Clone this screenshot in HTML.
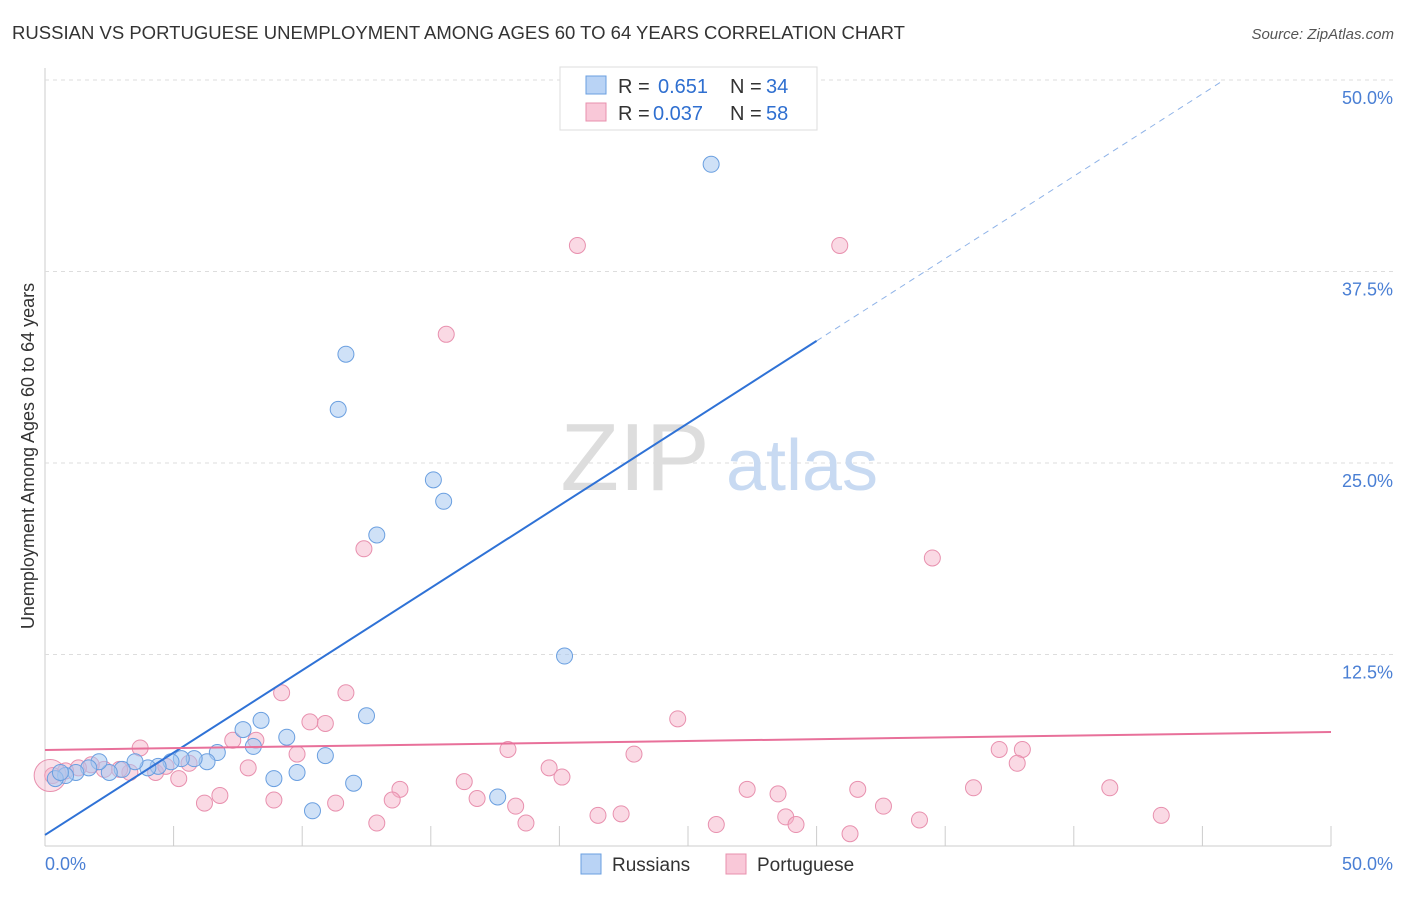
<!DOCTYPE html>
<html><head><meta charset="utf-8"><style>
body{margin:0;background:#fff;font-family:"Liberation Sans",sans-serif}
svg text{font-family:"Liberation Sans",sans-serif}
</style></head><body>
<svg width="1406" height="892" viewBox="0 0 1406 892" xmlns="http://www.w3.org/2000/svg">
<text x="12" y="39" font-size="18" fill="#333" textLength="893" lengthAdjust="spacingAndGlyphs">RUSSIAN VS PORTUGUESE UNEMPLOYMENT AMONG AGES 60 TO 64 YEARS CORRELATION CHART</text>
<text x="1394" y="39" font-size="15" fill="#555" text-anchor="end" font-style="italic">Source: ZipAtlas.com</text>
<g id="grid"></g>
<g>
<text x="635" y="490" font-size="96" fill="#ddd" text-anchor="middle" font-family="Liberation Serif">ZIP</text>
<text x="802" y="490" font-size="72" fill="#c8daf2" text-anchor="middle">atlas</text></g>
<text transform="translate(34,456) rotate(-90)" font-size="18" fill="#333" text-anchor="middle">Unemployment Among Ages 60 to 64 years</text>
<g id="pts"></g>
<g id="lines"></g>
<g>
<rect x="560" y="67" width="257" height="63" fill="#fff" stroke="#ddd"/>
<rect x="586" y="76" width="20" height="18" fill="#b9d3f5" stroke="#6a9fe0"/>
<rect x="586" y="103" width="20" height="18" fill="#f9c8d8" stroke="#e890ae"/>
<text x="618" y="93" font-size="20" fill="#333">R =</text>
<text x="658" y="93" font-size="20" fill="#2f6fd0">0.651</text>
<text x="730" y="93" font-size="20" fill="#333">N =</text>
<text x="766" y="93" font-size="20" fill="#2f6fd0">34</text>
<text x="618" y="120" font-size="20" fill="#333">R =</text>
<text x="653" y="120" font-size="20" fill="#2f6fd0">0.037</text>
<text x="730" y="120" font-size="20" fill="#333">N =</text>
<text x="766" y="120" font-size="20" fill="#2f6fd0">58</text>
</g>
<g>
<rect x="581" y="854" width="20" height="20" fill="#b9d3f5" stroke="#6a9fe0"/>
<text x="612" y="871" font-size="19" fill="#333">Russians</text>
<rect x="726" y="854" width="20" height="20" fill="#f9c8d8" stroke="#e890ae"/>
<text x="757" y="871" font-size="19" fill="#333">Portuguese</text>
</g>
<text x="45" y="870" font-size="18" fill="#4a7fd4">0.0%</text>
<text x="1393" y="870" font-size="18" fill="#4a7fd4" text-anchor="end">50.0%</text>
</svg>
<script>
const yTicks=[12.5,25,37.5,50];
const yTickLabels=["12.5%","25.0%","37.5%","50.0%"];
const xTicks=[0,5,10,15,20,25,30,35,40,45,50];
const rusX=[25.9,11.7,11.4,15.1,15.5,12.9,20.2,12.5,8.4,7.7,9.4,8.1,6.7,6.3,5.8,5.3,4.9,4.4,4.0,3.5,3.0,2.5,2.1,1.7,1.2,0.8,0.4,10.9,9.8,8.9,12.0,17.6,10.4,0.6];
const rusY=[44.5,32.1,28.5,23.9,22.5,20.3,12.4,8.5,8.2,7.6,7.1,6.5,6.1,5.5,5.7,5.7,5.5,5.2,5.1,5.5,5.0,4.8,5.5,5.1,4.8,4.6,4.4,5.9,4.8,4.4,4.1,3.2,2.3,4.8];
const porX=[20.7,30.9,15.6,12.4,34.5,9.2,11.7,24.6,10.3,10.9,8.2,7.3,3.7,18.0,22.9,9.8,37.1,38.0,37.8,19.6,20.1,16.3,13.8,27.3,28.5,31.6,36.1,41.4,6.8,8.9,6.2,11.3,13.5,16.8,18.3,32.6,28.8,21.5,22.4,34.0,43.4,12.9,18.7,26.1,29.2,31.3,7.9,5.2,4.3,3.3,2.3,1.8,1.3,0.8,0.3,4.7,5.6,2.9];
const porY=[39.2,39.2,33.4,19.4,18.8,10.0,10.0,8.3,8.1,8.0,6.9,6.9,6.4,6.3,6.0,6.0,6.3,6.3,5.4,5.1,4.5,4.2,3.7,3.7,3.4,3.7,3.8,3.8,3.3,3.0,2.8,2.8,3.0,3.1,2.6,2.6,1.9,2.0,2.1,1.7,2.0,1.5,1.5,1.4,1.4,0.8,5.1,4.4,4.8,4.8,5.0,5.3,5.1,4.9,4.6,5.2,5.4,5.0];
const rusLine=[0.72,1.075], rusSolidEnd=30, porLine=[6.27,7.44];
const X=v=>45+v*25.72, Y=v=>846-v*15.32;
const NS="http://www.w3.org/2000/svg";
function mk(t,a,p){const e=document.createElementNS(NS,t);for(const k in a)e.setAttribute(k,a[k]);p.appendChild(e);return e;}
const g=document.getElementById('grid');
const ax=mk('line',{x1:45,y1:68,x2:45,y2:846,stroke:'#ccc'},g);


const bx=mk('line',{x1:45,y1:846,x2:1331,y2:846,stroke:'#ccc'},g);


yTicks.forEach((v,i)=>{
 const l=mk('line',{x1:45,y1:Y(v),x2:1394,y2:Y(v),stroke:'#ddd','stroke-dasharray':'4,4'},g);
 
 
 const t=mk('text',{x:1393,y:Y(v)+24,'font-size':18,fill:'#4a7fd4','text-anchor':'end'},g);
 t.textContent=yTickLabels[i];
 
 
});
xTicks.forEach(v=>{
 const l=mk('line',{x1:X(v),y1:826,x2:X(v),y2:846,stroke:'#ccc'},g);
 
 
});
const p=document.getElementById('pts');
porX.forEach((x,i)=>{
 const c=mk('circle',{cx:X(x),cy:Y(porY[i]),r:8,fill:'rgba(244,170,196,0.45)',stroke:'#e890ae','stroke-width':1},p);
 
 
});
const big=mk('circle',{cx:X(0.2),cy:Y(4.6),r:16,fill:'rgba(244,170,196,0.35)',stroke:'#e890ae'},p);


rusX.forEach((x,i)=>{
 const c=mk('circle',{cx:X(x),cy:Y(rusY[i]),r:8,fill:'rgba(168,200,240,0.55)',stroke:'#6a9fe0','stroke-width':1},p);
 
 
});
const L=document.getElementById('lines');
const f=x=>rusLine[0]+rusLine[1]*x;
const b1=mk('line',{x1:X(0),y1:Y(f(0)),x2:X(rusSolidEnd),y2:Y(f(rusSolidEnd)),stroke:'#2f72d6','stroke-width':2},L);


const xe=(50-rusLine[0])/rusLine[1];
const b2=mk('line',{x1:X(rusSolidEnd),y1:Y(f(rusSolidEnd)),x2:X(xe),y2:Y(50),stroke:'#8fb3e8','stroke-width':1,'stroke-dasharray':'6,5'},L);


const pl=mk('line',{x1:X(0),y1:Y(porLine[0]),x2:X(50),y2:Y(porLine[1]),stroke:'#e8709a','stroke-width':2},L);


</script>
</body></html>
